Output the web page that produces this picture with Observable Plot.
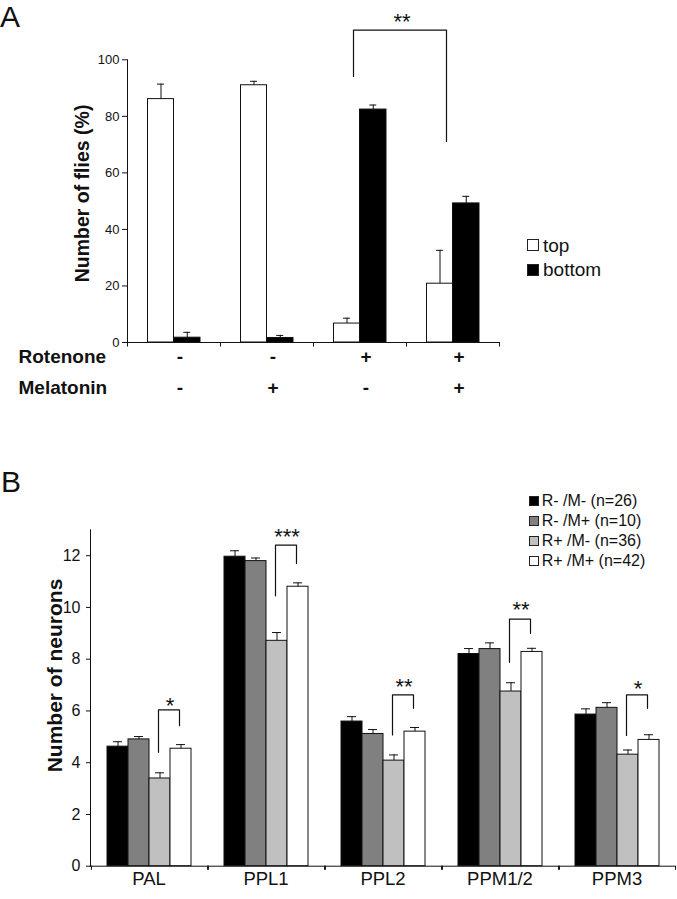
<!DOCTYPE html>
<html><head><meta charset="utf-8">
<script src="https://cdn.jsdelivr.net/npm/d3@7"></script>
<script src="https://cdn.jsdelivr.net/npm/@observablehq/plot@0.6"></script>
<style>
html,body{margin:0;padding:0;background:#fff;}
#wrap{position:relative;width:677px;height:899px;overflow:hidden;font-family:"Liberation Sans",Arial,Helvetica,sans-serif;color:#111;}
#wrap svg{position:absolute;left:0;}
.letter{position:absolute;font-size:30px;line-height:34px;}
.leg{position:absolute;display:flex;align-items:center;white-space:nowrap;}
.sw{box-sizing:border-box;border:1px solid #222;flex:none;}
</style></head><body><div id="wrap"></div>
<script>
// ---------- Panel A data ----------
const groupsA = ["g1", "g2", "g3", "g4"];
const rotenoneA = ["-", "-", "+", "+"];
const melatoninA = ["-", "+", "-", "+"];
const topMeanA = [86.1, 91.0, 6.7, 20.8];
const topSemA = [5.3, 1.4, 1.9, 11.8];
const bottomMeanA = [1.7, 1.6, 82.4, 49.2];
const bottomSemA = [1.9, 0.9, 1.6, 2.5];
const yTicksA = [0, 20, 40, 60, 80, 100];
const rowLabelsA = ["Rotenone", "Melatonin"];
const legendNamesA = ["top", "bottom"];
const legendFillsA = ["#ffffff", "#000000"];
const bracketGroupsA = ["g3", "g3", "g4", "g4"];
const bracketYA = [94.1, 110.5, 110.5, 71.1];
const starLabelA = "**";
const starYA = 115.4;
const yLabelA = "Number of flies (%)";

// ---------- Panel B data ----------
const regionsB = ["PAL", "PPL1", "PPL2", "PPM1/2", "PPM3"];
const seriesB = ["R- /M- (n=26)", "R- /M+ (n=10)", "R+ /M- (n=36)", "R+ /M+ (n=42)"];
const colorsB = ["#000000", "#808080", "#c0c0c0", "#ffffff"];
const meanRmMm = [4.62, 11.96, 5.59, 8.20, 5.86];
const semRmMm  = [0.19, 0.23, 0.19, 0.21, 0.22];
const meanRmMp = [4.90, 11.79, 5.11, 8.39, 6.12];
const semRmMp  = [0.11, 0.12, 0.17, 0.24, 0.20];
const meanRpMm = [3.39, 8.71, 4.08, 6.75, 4.31];
const semRpMm  = [0.22, 0.32, 0.22, 0.34, 0.18];
const meanRpMp = [4.54, 10.80, 5.20, 8.28, 4.88];
const semRpMp  = [0.16, 0.15, 0.16, 0.14, 0.20];
const yTicksB = [0, 2, 4, 6, 8, 10, 12];
const bracketLeftB = [4.40, 10.45, 5.07, 7.88, 5.05];
const bracketTopB = [6.04, 12.41, 6.62, 9.55, 6.62];
const bracketRightB = [5.43, 11.70, 6.10, 9.00, 6.10];
const starsB = ["*", "***", "**", "**", "*"];
const starYB = [6.42, 12.94, 7.14, 10.12, 7.08];
const yLabelB = "Number of neurons";

const fontFam = '"Liberation Sans", Arial, Helvetica, sans-serif';
const ink = "#111";
const wrap = document.getElementById("wrap");

// ---------- Panel A ----------
const rowsA = groupsA.map((g, i) => ({
  group: g, rot: rotenoneA[i], mel: melatoninA[i],
  top: topMeanA[i], topHi: topMeanA[i] + topSemA[i],
  bottom: bottomMeanA[i], bottomHi: bottomMeanA[i] + bottomSemA[i]
}));
const bracketA = bracketGroupsA.map((g, i) => ({group: g, y: bracketYA[i]}));
const mLA = 127, mRA = 178;
const bandA = (677 - mLA - mRA) / groupsA.length;

const plotA = Plot.plot({
  width: 677, height: 420,
  marginLeft: mLA, marginRight: mRA, marginTop: 59.3, marginBottom: 78,
  style: {fontFamily: fontFam, fontSize: "13px", color: ink, background: "transparent", overflow: "visible"},
  x: {type: "band", domain: groupsA, padding: 0, axis: null},
  y: {domain: [0, 100], ticks: yTicksA, tickSize: 5, tickPadding: 3, line: true, label: null},
  marks: [
    Plot.barY(rowsA, {x: "group", y: "top", fill: "#fff", stroke: ink, insetLeft: 20.5, insetRight: bandA - 46.5}),
    Plot.barY(rowsA, {x: "group", y: "bottom", fill: "#000", stroke: ink, insetLeft: 46.5, insetRight: bandA - 73}),
    Plot.ruleX(rowsA, {x: "group", y1: "top", y2: "topHi", dx: 33.5 - bandA / 2, stroke: ink}),
    Plot.tickY(rowsA, {x: "group", y: "topHi", insetLeft: 30, insetRight: bandA - 37, stroke: ink}),
    Plot.ruleX(rowsA, {x: "group", y1: "bottom", y2: "bottomHi", dx: 59.75 - bandA / 2, stroke: ink}),
    Plot.tickY(rowsA, {x: "group", y: "bottomHi", insetLeft: 56.25, insetRight: bandA - 63.25, stroke: ink}),
    Plot.ruleY([0], {stroke: ink}),
    Plot.ruleX(groupsA, {x: d => d, y1: 0, y2: -1.6, dx: -bandA / 2, stroke: ink}),
    Plot.ruleX(groupsA.slice(-1), {x: d => d, y1: 0, y2: -1.6, dx: bandA / 2, stroke: ink}),
    Plot.line(bracketA, {x: "group", y: "y", dx: -6.5, stroke: ink, strokeWidth: 1.2}),
    Plot.text([starLabelA], {x: () => bracketGroupsA[0], y: () => starYA, text: d => d, dx: 42, dy: 5.5, fontSize: 22}),
    Plot.text(rowsA, {x: "group", text: "rot", frameAnchor: "bottom", dx: 6, dy: 20.7, fontSize: 19, fontWeight: "bold"}),
    Plot.text(rowsA, {x: "group", text: "mel", frameAnchor: "bottom", dx: 6, dy: 51.7, fontSize: 19, fontWeight: "bold"}),
    Plot.text([rowLabelsA[0]], {frameAnchor: "bottom-left", text: d => d, dx: -109, dy: 20.7, textAnchor: "start", fontSize: 19, fontWeight: "bold"}),
    Plot.text([rowLabelsA[1]], {frameAnchor: "bottom-left", text: d => d, dx: -109, dy: 51.7, textAnchor: "start", fontSize: 19, fontWeight: "bold"}),
    Plot.text([yLabelA], {frameAnchor: "left", text: d => d, textAnchor: "middle", rotate: -90, dx: -44.5, dy: -7.7, fontSize: 19.5, fontWeight: "bold"})
  ]
});
plotA.style.top = "0px";
wrap.append(plotA);

// ---------- Panel B ----------
const meansB = [meanRmMm, meanRmMp, meanRpMm, meanRpMp];
const semsB = [semRmMm, semRmMp, semRpMm, semRpMp];
const rowsB = [];
regionsB.forEach((r, i) => seriesB.forEach((s, j) => rowsB.push({
  region: r, series: s, mean: meansB[j][i], hi: meansB[j][i] + semsB[j][i]
})));
const bracketPtsB = [];
regionsB.forEach((r, i) => {
  bracketPtsB.push({region: r, series: seriesB[2], y: bracketLeftB[i]});
  bracketPtsB.push({region: r, series: seriesB[2], y: bracketTopB[i]});
  bracketPtsB.push({region: r, series: seriesB[3], y: bracketTopB[i]});
  bracketPtsB.push({region: r, series: seriesB[3], y: bracketRightB[i]});
});
const sigB = regionsB.map((r, i) => ({region: r, label: starsB[i], y: starYB[i]}));
const mLB = 88, mRB = 1, padOutB = 0.735;
const bandB = (677 - mLB - mRB) / regionsB.length;
const stepB = bandB / (seriesB.length + 2 * padOutB);
const edgeB = stepB * padOutB + stepB / 2;

const plotB = Plot.plot({
  width: 677, height: 479,
  marginLeft: mLB, marginRight: mRB, marginTop: 109.3, marginBottom: 33.3,
  style: {fontFamily: fontFam, fontSize: "16px", color: ink, background: "transparent", overflow: "visible"},
  fx: {domain: regionsB, padding: 0, axis: null},
  x: {domain: seriesB, paddingInner: 0, paddingOuter: padOutB, axis: null},
  y: {domain: [0, 13], ticks: yTicksB, tickSize: 4, tickPadding: 6, line: true, label: null},
  color: {domain: seriesB, range: colorsB},
  marks: [
    Plot.barY(rowsB, {fx: "region", x: "series", y: "mean", fill: "series", stroke: ink}),
    Plot.ruleX(rowsB, {fx: "region", x: "series", y1: "mean", y2: "hi", stroke: ink}),
    Plot.tickY(rowsB, {fx: "region", x: "series", y: "hi", insetLeft: 6, insetRight: 6, stroke: ink}),
    Plot.ruleY([0], {stroke: ink}),
    Plot.ruleX(regionsB, {fx: d => d, x: () => seriesB[0], y1: 0, y2: -0.16, dx: -edgeB, stroke: ink}),
    Plot.ruleX(regionsB, {fx: d => d, x: () => seriesB[3], y1: 0, y2: -0.16, dx: edgeB, stroke: ink}),
    Plot.line(bracketPtsB, {fx: "region", x: "series", y: "y", z: "region", dx: -1.5, stroke: ink, strokeWidth: 1.2}),
    Plot.text(sigB, {fx: "region", x: () => seriesB[2], y: "y", text: "label", dx: 10, dy: 5.5, fontSize: 22}),
    Plot.text(regionsB, {fx: d => d, text: d => d, frameAnchor: "bottom", dy: 19, fontSize: 18.5}),
    Plot.text([yLabelB], {fx: () => regionsB[0], frameAnchor: "left", text: d => d, textAnchor: "middle", rotate: -90, dx: -35.5, dy: -22.5, fontSize: 21, fontWeight: "bold"})
  ]
});
plotB.style.top = "420px";
wrap.append(plotB);

// ---------- Panel letters & legends (HTML) ----------
function letter(txt, left, top) {
  const d = document.createElement("div");
  d.className = "letter"; d.textContent = txt;
  d.style.left = left + "px"; d.style.top = top + "px";
  wrap.append(d);
}
letter("A", 0, 0);
letter("B", 1, 465);

function legendRow(name, fill, left, centerY, sq, fontSize, gap) {
  const d = document.createElement("div");
  d.className = "leg";
  d.style.left = left + "px";
  d.style.top = (centerY - fontSize / 2) + "px";
  d.style.height = fontSize + "px";
  d.style.fontSize = fontSize + "px";
  d.style.lineHeight = fontSize + "px";
  const s = document.createElement("span");
  s.className = "sw";
  s.style.width = sq + "px"; s.style.height = sq + "px"; s.style.background = fill;
  const t = document.createElement("span");
  t.textContent = name; t.style.marginLeft = gap + "px";
  d.append(s, t);
  wrap.append(d);
}
legendNamesA.forEach((n, i) => legendRow(n, legendFillsA[i], 527, 245 + i * 24.5, 12, 19, 4));
seriesB.forEach((n, i) => legendRow(n, colorsB[i], 529.3, 500.5 + i * 20, 10, 16, 2.4));
</script></body></html>
